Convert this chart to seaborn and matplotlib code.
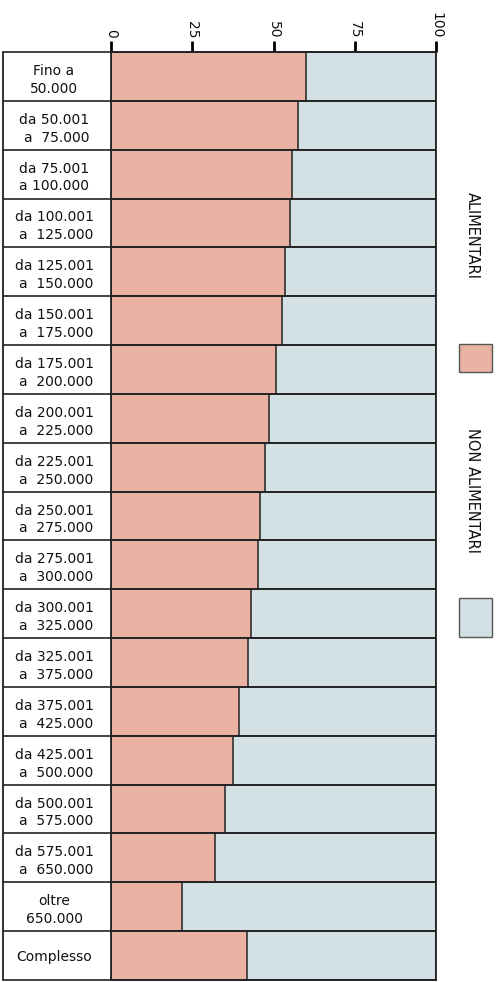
import numpy as np
import pandas as pd
import matplotlib
matplotlib.use("Agg")
import matplotlib.pyplot as plt
from matplotlib.patches import Rectangle
import seaborn as sns

categories = [
    "Fino a\n50.000",
    "da 50.001\na  75.000",
    "da 75.001\na 100.000",
    "da 100.001\na  125.000",
    "da 125.001\na  150.000",
    "da 150.001\na  175.000",
    "da 175.001\na  200.000",
    "da 200.001\na  225.000",
    "da 225.001\na  250.000",
    "da 250.001\na  275.000",
    "da 275.001\na  300.000",
    "da 300.001\na  325.000",
    "da 325.001\na  375.000",
    "da 375.001\na  425.000",
    "da 425.001\na  500.000",
    "da 500.001\na  575.000",
    "da 575.001\na  650.000",
    "oltre\n650.000",
    "Complesso",
]
alimentari = [60.0, 57.6, 55.8, 55.1, 53.6, 52.5, 50.8, 48.5, 47.4, 45.8,
              45.3, 43.1, 42.1, 39.4, 37.6, 35.2, 32.1, 21.7, 41.7]
non_alimentari = [40.0, 42.4, 44.2, 44.9, 46.4, 47.5, 49.2, 51.5, 52.6, 54.2,
                  54.7, 56.9, 57.9, 60.6, 62.4, 64.8, 67.9, 78.3, 58.3]
xticks = [0, 25, 50, 75, 100]

PINK = "#E9B2A3"
BLUE = "#D3E1E5"
EDGE = "#222222"
TXT = "#111111"

df = pd.DataFrame({
    "cat": categories,
    "alim": alimentari,
    "tot": np.array(alimentari) + np.array(non_alimentari),
})

sns.set_style("white")
plt.rcParams["font.family"] = ["DejaVu Sans"]
plt.rcParams["text.color"] = TXT
plt.rcParams["xtick.color"] = TXT
plt.rcParams["ytick.color"] = TXT

fig = plt.figure(figsize=(5.01, 9.82), dpi=100)
ax = fig.add_axes([111 / 501, 2 / 982, 325 / 501, 928 / 982])

sns.barplot(data=df, y="cat", x="tot", orient="h", color=BLUE, width=1.0,
            edgecolor=EDGE, linewidth=1.1, saturation=1, ax=ax)
sns.barplot(data=df, y="cat", x="alim", orient="h", color=PINK, width=1.0,
            edgecolor=EDGE, linewidth=1.1, saturation=1, ax=ax)

ax.set_xlim(0, 100)
ax.set_ylim(len(categories) - 0.5, -0.5)
ax.set_xlabel("")
ax.set_ylabel("")

# top axis ticks
ax.xaxis.tick_top()
ax.set_xticks(xticks)
ax.set_xticklabels([str(t) for t in xticks], rotation=-90, fontsize=10, color=TXT)
ax.tick_params(axis="x", direction="out", length=8, width=2, color="black", pad=2)

# category labels in the table column
ax.tick_params(axis="y", length=0, pad=41)
for lab in ax.get_yticklabels():
    lab.set_fontsize(10)
    lab.set_color(TXT)
    lab.set_ha("center")
    lab.set_linespacing(1.35)
    t = lab.get_text()
    lab.set_multialignment("right" if t.startswith("da") else "center")

for s in ax.spines.values():
    s.set_visible(True)
    s.set_color(EDGE)
    s.set_linewidth(1.3)

# table lines extending into the label column
x0 = (3 - 111) / 325
for i in range(len(categories) + 1):
    ax.axhline(i - 0.5, xmin=x0, xmax=1, color=EDGE, lw=1.2, clip_on=False, zorder=5)
ax.plot([x0, x0], [0, 1], transform=ax.transAxes, color=EDGE, lw=1.3, clip_on=False)

# legend (rotated, on the right)
def fy(py):
    return 1 - py / 982

fig.text(472 / 501, fy(236), "ALIMENTARI", rotation=-90, ha="center", va="center",
         fontsize=10.5, color=TXT)
fig.patches.append(Rectangle((459 / 501, fy(372)), 33 / 501, 28 / 982,
                             transform=fig.transFigure, facecolor=PINK,
                             edgecolor="#555555", lw=1.0))
fig.text(472 / 501, fy(490), "NON ALIMENTARI", rotation=-90, ha="center", va="center",
         fontsize=10.5, color=TXT)
fig.patches.append(Rectangle((459 / 501, fy(637)), 33 / 501, 39 / 982,
                             transform=fig.transFigure, facecolor=BLUE,
                             edgecolor="#555555", lw=1.0))

fig.savefig("out.png", dpi=100)
